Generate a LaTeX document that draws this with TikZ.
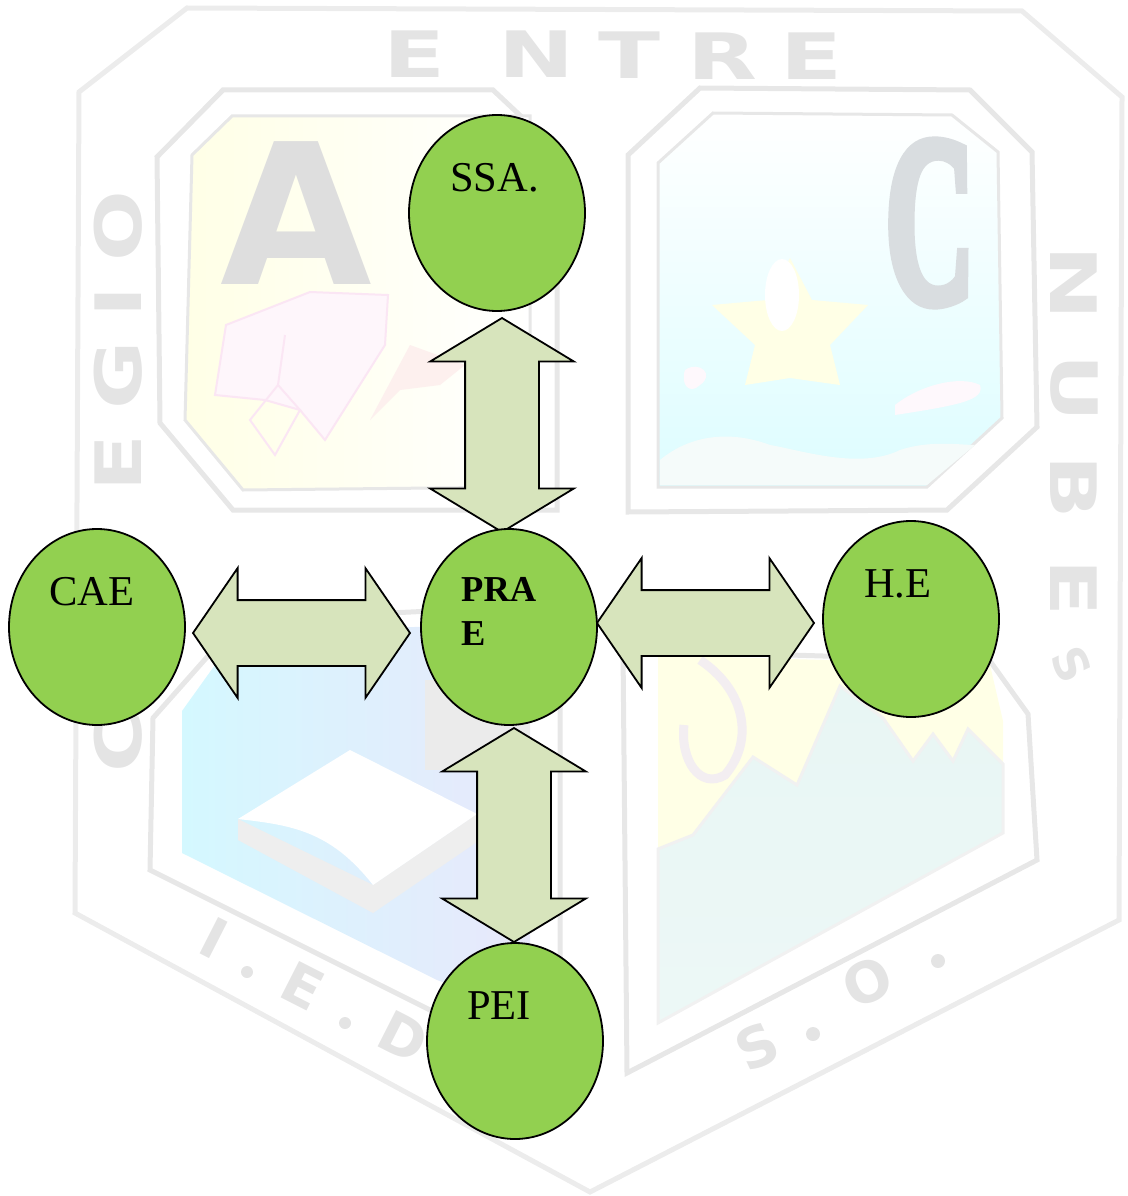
\documentclass[tikz,border=0pt]{standalone}
\usepackage{fontspec}
\setmainfont{Liberation Serif}
\newfontfamily\wmsans{DejaVu Sans}
\newfontfamily\wmserif[FakeBold=5]{Liberation Serif Bold}
\usetikzlibrary{shapes.arrows,shapes.geometric}
\definecolor{wmline}{HTML}{E7E7E7}
\definecolor{wmtext}{HTML}{E4E4E4}
\definecolor{wmdark}{HTML}{DEDEDE}
\definecolor{wmslate}{HTML}{D9DDE0}
\definecolor{wmcyan}{HTML}{DDFDFF}
\definecolor{wmyellow}{HTML}{FFFFE6}
\definecolor{wmblue}{HTML}{D4F8FF}
\definecolor{wmlav}{HTML}{E8E8FB}
\definecolor{wmteal}{HTML}{E8F6F4}
\definecolor{wmpink}{HTML}{FBE6F4}
\definecolor{nodegreen}{HTML}{92D050}
\definecolor{arrowgreen}{HTML}{D7E4BC}
\tikzset{
  circ/.style={ellipse,draw=black,fill=nodegreen,line width=1.8pt,minimum width=176pt,minimum height=196pt,inner sep=0pt,outer sep=0pt},
  darrowv/.style={double arrow,draw=black,fill=arrowgreen,line width=1.8pt,rotate=90,minimum height=214pt,minimum width=142pt,double arrow head extend=35pt,double arrow head indent=0pt,double arrow tip angle=117.6,inner sep=0pt,outer sep=0pt},
  darrowh/.style={double arrow,draw=black,fill=arrowgreen,line width=1.8pt,minimum height=217pt,minimum width=128pt,double arrow head extend=32pt,double arrow head indent=0pt,double arrow tip angle=111,inner sep=0pt,outer sep=0pt},
  lbl/.style={anchor=base west,inner sep=0pt,font=\fontsize{42.5}{44}\selectfont},
  frame/.style={draw=wmline,line width=5pt,line join=miter},
  wm/.style={text=wmtext,inner sep=0pt,font=\wmsans\bfseries\fontsize{64}{64}\selectfont},
  wmd/.style={wm,font=\wmsans\bfseries\fontsize{56}{56}\selectfont},
}
\begin{document}
\begin{tikzpicture}[x=1pt,y=-1pt]
\useasboundingbox (0,0) rectangle (1127,1196);
% watermark: outer shield
\draw[frame,draw=wmline!80!white] (79,92) -- (187,8) -- (1022,11) -- (1122,97) -- (1119,920) -- (590,1192) -- (75,913) -- cycle;
% watermark: panel frames
\draw[frame] (157,157) -- (223,90) -- (493,90) -- (557,150) -- (557,510) -- (233,510) -- (160,423) -- cycle;
\draw[frame] (628,155) -- (700,88) -- (970,90) -- (1032,152) -- (1037,427) -- (947,510) -- (628,512) -- cycle;
\draw[frame] (153,718) -- (240,620) -- (560,605) -- (560,1075) -- (150,870) -- cycle;
\draw[frame] (623,650) -- (990,661) -- (1028,714) -- (1037,860) -- (627,1073) -- cycle;
% panel A
\path[left color=wmyellow,right color=white,draw=wmline,line width=3pt] (192,155) -- (232,116) -- (530,116) -- (530,487) -- (243,490) -- (185,420) -- cycle;
\node[text=wmdark,inner sep=0pt,font=\wmsans\bfseries\fontsize{196}{196}\selectfont] (letterA) at (296,213) {A};
\draw[wmpink,line width=2pt,fill=wmpink!35] (226,325) -- (310,292) -- (388,295) -- (385,345) -- (325,440) -- (300,410) -- (265,400) -- (215,395) -- cycle;
\draw[wmpink,line width=2pt] (285,335) -- (278,385) -- (300,410) -- (275,455) -- (250,420) -- (278,385);
\fill[wmpink!60!wmyellow] (370,420) -- (410,345) -- (465,365) -- (440,385) -- (400,390) -- cycle;
% panel C
\path[top color=white,bottom color=wmcyan,draw=wmline,line width=3pt] (658,163) -- (713,113) -- (952,115) -- (998,152) -- (1002,418) -- (927,487) -- (658,487) -- cycle;
\fill[wmyellow] (790,258) -- (812,300) -- (868,305) -- (830,345) -- (840,385) -- (790,378) -- (745,385) -- (755,345) -- (712,305) -- (768,300) -- cycle;
\fill[white] (782,295) ellipse (17pt and 36pt);
\fill[white!70!wmpink] (895,405) .. controls (920,385) and (960,375) .. (980,385) .. controls (985,400) and (960,405) .. (895,415) -- cycle;
\fill[white!70!wmpink] (685,370) .. controls (700,360) and (715,375) .. (700,385) .. controls (690,395) and (680,385) .. (685,370) -- cycle;
\fill[white!55!wmteal] (660,460) .. controls (690,435) and (730,430) .. (770,445) .. controls (800,450) and (860,470) .. (900,450) .. controls (930,440) and (960,445) .. (975,445) -- (927,485) -- (660,485) -- cycle;
\node[text=wmslate,inner sep=0pt,font=\wmserif\fontsize{200}{200}\selectfont,xscale=.62,yscale=1.2] (letterC) at (930,223) {C};
% panel book
\path[left color=wmblue,right color=wmlav,draw=none] (182,711) -- (240,630) -- (530,625) -- (530,1015) -- (437,980) -- (182,853) -- cycle;
\fill[wmdark!60!white] (425,680) rectangle (530,770);
\fill[wmline!70!white] (238,819) -- (373,885) -- (477,814) -- (477,842) -- (373,913) -- (238,840) -- cycle;
\fill[white] (238,819) -- (350,750) -- (477,814) -- (373,885) .. controls (330,830) and (290,825) .. (238,819) -- cycle;
% panel mountains
\fill[wmyellow] (658,655) -- (990,665) -- (1003,721) -- (1003,833) -- (658,849) -- cycle;
\draw[wmpink!70!gray!30,line width=9pt] (700,660) .. controls (745,690) and (755,740) .. (725,775) .. controls (700,790) and (680,760) .. (684,725);
\path[top color=wmteal,bottom color=wmteal!80!white,draw=wmline!60!white,line width=3pt] (658,849) -- (693,835) -- (753,757) -- (797,785) -- (840,686) -- (883,718) -- (913,761) -- (933,734) -- (953,761) -- (968,729) -- (1003,764) -- (1003,833) -- (658,1023) -- cycle;
% watermark lettering
\node[wm,xscale=1.42] (w1) at (415,54) {E};
\node[wm,xscale=1.42] (w2) at (537,54) {N};
\node[wm,xscale=1.42] (w3) at (629,55) {T};
\node[wm,xscale=1.42] (w4) at (722,56) {R};
\node[wm,xscale=1.42] (w5) at (812,56) {E};
\node[wm,rotate=90,xscale=1.3] (c1) at (118,226) {O};
\node[wm,rotate=90,xscale=1.3] (c2) at (118,302) {I};
\node[wm,rotate=90,xscale=1.3] (c3) at (118,375) {G};
\node[wm,rotate=90,xscale=1.3] (c4) at (118,463) {E};
\node[wm,rotate=90,xscale=1.3] (c5) at (118,742) {C};
\node[wm,rotate=-90,xscale=1.4] (n1) at (1074,283) {N};
\node[wm,rotate=-90,xscale=1.3] (n2) at (1074,388) {U};
\node[wm,rotate=-90,xscale=1.3] (n3) at (1074,487) {B};
\node[wm,rotate=-90,xscale=1.3] (n4) at (1074,588) {E};
\node[wm,rotate=-65,font=\wmsans\bfseries\fontsize{46}{46}\selectfont] (n5) at (1072,664) {S};
\node[wmd,rotate=-27] (i1) at (214,938) {I};
\fill[wmtext] (247,972) circle (6pt);
\node[wmd,rotate=-27] (i2) at (303,986) {E};
\fill[wmtext] (345,1023) circle (6pt);
\node[wmd,rotate=-27] (i3) at (403,1037) {D};
\node[wmd,rotate=25] (s1) at (757,1046) {S};
\fill[wmtext] (813,1034) circle (7pt);
\node[wmd,rotate=25] (s2) at (867,982) {O};
\fill[wmtext] (938,961) circle (7pt);
% double arrows
\node[darrowv] (ssaprae) at (502,425) {\rule{0pt}{72pt}};
\node[darrowv] (praepei) at (514,835) {\rule{0pt}{72pt}};
\node[darrowh] (caeprae) at (301.5,633) {\rule{0pt}{64pt}};
\node[darrowh] (praehe) at (705.5,623) {\rule{0pt}{64pt}};
% circles
\node[circ] (ssa) at (497,213) {};
\node[circ] (prae) at (509,627) {};
\node[circ] (cae) at (97,627) {};
\node[circ] (he) at (911,619) {};
\node[circ] (pei) at (515,1041) {};
% labels
\node[lbl] (tssa) at (450,191) {SSA.};
\node[lbl] (tcae) at (49,605) {CAE};
\node[lbl] (the) at (864,597) {H.E};
\node[lbl] (tpei) at (467,1019) {PEI};
\node[inner sep=0pt,anchor=west,align=left,font=\bfseries\fontsize{36.5}{44}\selectfont] (tprae) at (461,611) {PRA\\E};
\end{tikzpicture}
\end{document}
